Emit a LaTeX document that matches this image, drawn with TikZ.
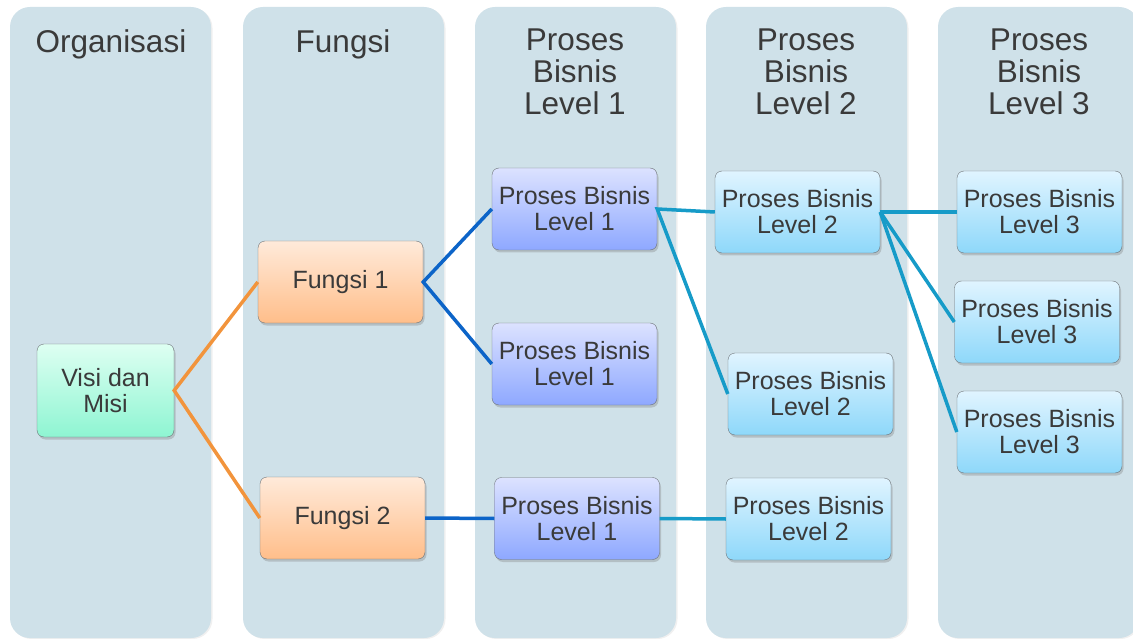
\documentclass[tikz,border=0pt]{standalone}
\usepackage{fontspec}
\setmainfont{Liberation Sans}
\usepackage{xcolor}
\usepackage{tikz}
\usetikzlibrary{shadows}

\definecolor{colfill}{RGB}{207,225,233}
\definecolor{txtgray}{RGB}{58,58,58}
\definecolor{boxedge}{RGB}{110,115,120}
\definecolor{visitop}{RGB}{222,255,242}
\definecolor{visibot}{RGB}{142,245,210}
\definecolor{fungtop}{RGB}{255,234,218}
\definecolor{fungbot}{RGB}{255,190,138}
\definecolor{levatop}{RGB}{220,226,255}
\definecolor{levabot}{RGB}{142,168,255}
\definecolor{levbtop}{RGB}{224,244,255}
\definecolor{levbbot}{RGB}{142,216,250}
\definecolor{orangeln}{RGB}{242,148,60}
\definecolor{blueln}{RGB}{12,100,200}
\definecolor{tealln}{RGB}{22,155,200}

\begin{document}
\begin{tikzpicture}[x=1pt, y=-1pt,
            column/.style={fill=colfill, rounded corners=20pt,
                drop shadow={shadow xshift=1.5pt, shadow yshift=-1pt, opacity=0.12}},
            header/.style={font=\fontsize{31.5}{32}\selectfont, text=txtgray,
                align=center, anchor=north, inner sep=0pt},
            box/.style={draw=boxedge, rounded corners=7pt, minimum width=165pt,
                minimum height=82pt, inner sep=0pt, align=center, text=txtgray,
                font=\fontsize{25}{26}\selectfont,
                drop shadow={shadow xshift=1.5pt, shadow yshift=-2.5pt, opacity=0.35}},
            visibox/.style={box, top color=visitop, bottom color=visibot,
                minimum width=137pt, minimum height=93pt},
            fungbox/.style={box, top color=fungtop, bottom color=fungbot},
            levabox/.style={box, top color=levatop, bottom color=levabot},
            levbbox/.style={box, top color=levbtop, bottom color=levbbot},
            orangeline/.style={draw=orangeln, line width=3.5pt},
            blueline/.style={draw=blueln, line width=3.5pt},
            tealline/.style={draw=tealln, line width=3.5pt},
        ]
        \useasboundingbox (0,0) rectangle (1133,639);
        \clip (0,0) rectangle (1133,639);
        \foreach \cx in {10,243,475,706,938}
            \fill[column] (\cx,7) rectangle ++(201,631);

        \node[header] (hOrg) at (111,29) {Organisasi};
        \node[header] (hFung) at (343,29) {Fungsi};
        \node[header] (hLa) at (575,29) {Proses\\Bisnis\\Level 1};
        \node[header] (hLb) at (806,29) {Proses\\Bisnis\\Level 2};
        \node[header] (hLc) at (1039,29) {Proses\\Bisnis\\Level 3};

        \node[visibox] (visi) at (105.5,390.5) {Visi dan\\Misi};
        \node[fungbox] (fungA) at (340.5,282) {Fungsi 1};
        \node[fungbox] (fungB) at (342.5,518) {Fungsi 2};
        \node[levabox] (laA) at (574.5,209) {Proses Bisnis\\Level 1};
        \node[levabox] (laB) at (574.5,364) {Proses Bisnis\\Level 1};
        \node[levabox] (laC) at (577,518.5) {Proses Bisnis\\Level 1};
        \node[levbbox] (lbA) at (797.5,212) {Proses Bisnis\\Level 2};
        \node[levbbox] (lbB) at (810.5,394) {Proses Bisnis\\Level 2};
        \node[levbbox] (lbC) at (808.5,519) {Proses Bisnis\\Level 2};
        \node[levbbox] (lcA) at (1039.5,212) {Proses Bisnis\\Level 3};
        \node[levbbox] (lcB) at (1037,322) {Proses Bisnis\\Level 3};
        \node[levbbox] (lcC) at (1039.5,432) {Proses Bisnis\\Level 3};

        \draw[orangeline] (fungA.west) -- (visi.east) -- (fungB.west);
        \draw[blueline] (laA.west) -- (fungA.east) -- (laB.west);
        \draw[blueline] (fungB.east) -- (laC.west);
        \draw[tealline] (lbA.west) -- (laA.east) -- (lbB.west);
        \draw[tealline] (laC.east) -- (lbC.west);
        \draw[tealline] (lbA.east) -- (lcA.west);
        \draw[tealline] (lbA.east) -- (lcB.west);
        \draw[tealline] (lbA.east) -- (lcC.west);
        \end{tikzpicture}
\end{document}
